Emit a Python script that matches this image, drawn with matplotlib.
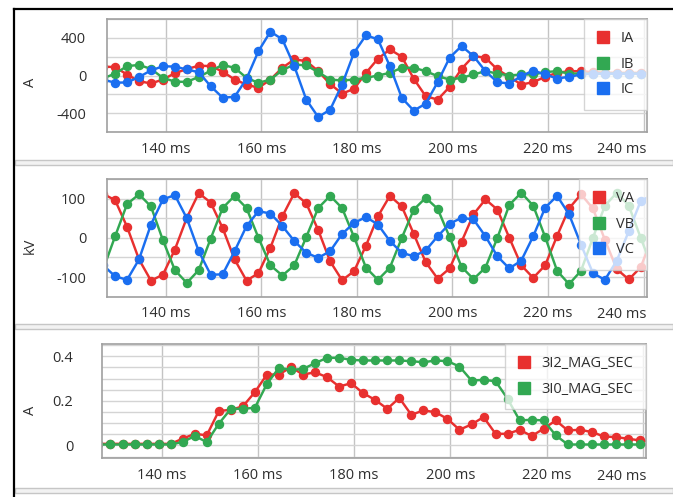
import matplotlib
matplotlib.use("Agg")
import matplotlib.pyplot as plt
from matplotlib.lines import Line2D
from matplotlib.patches import Rectangle
import matplotlib.ticker as mticker

plt.rcParams['font.family'] = ['Open Sans', 'DejaVu Sans']
plt.rcParams['axes.unicode_minus'] = False

# ---------------- data (sample times in ms) ----------------
time_ms = [126.9, 129.4, 131.9, 134.4, 136.9, 139.4, 141.9, 144.4, 146.9, 149.4,
           151.9, 154.4, 156.9, 159.4, 161.9, 164.4, 166.9, 169.4, 171.9, 174.4,
           176.9, 179.4, 181.9, 184.4, 186.9, 189.4, 191.9, 194.4, 196.9, 199.4,
           201.9, 204.4, 206.9, 209.4, 211.9, 214.4, 216.9, 219.4, 221.9, 224.4,
           226.9, 229.4, 231.9, 234.4, 236.9, 239.4, 241.9]

ia = [95, 89, 10, -61, -84, -43, 25, 68, 104, 100, 42, -43, -96, -131, -43, 82,
      171, 153, 46, -90, -192, -142, 28, 178, 277, 199, -35, -220, -256, -121,
      71, 206, 189, 64, -14, -96, -71, -14, 28, 46, 46, 35, 30, 28, 28, 28, 28]
ib = [-30, 20, 100, 112, 70, -25, -65, -68, -15, 50, 112, 82, -25, -78, -43, 57,
      117, 107, 36, -43, -53, -43, -25, 0, 28, 82, 82, 46, -7, -43, -25, 11, 46,
      21, 0, 11, 11, 36, 46, 21, 21, 20, 20, 20, 20, 20, 20]
ic = [-45, -76, -74, -16, 54, 98, 95, 64, 35, -114, -235, -227, -35, 259, 466,
      384, 99, -256, -441, -363, -96, 242, 427, 384, 99, -238, -373, -299, -71,
      189, 313, 206, 46, -71, -85, -7, 53, 11, -32, -14, 11, 20, 20, 20, 20, 20, 20]

va = [112, 96, 28, -55, -109, -94, -30, 51, 114, 90, 25, -55, -109, -90, -25, 55,
      114, 88, 20, -60, -108, -85, -20, 55, 107, 80, 10, -62, -104, -78, -10, 60,
      98, 72, 0, -70, -102, -70, 5, 75, 111, 75, -5, -80, -106, -75, 5]
vb = [-80, 4, 86, 111, 80, -6, -82, -115, -82, -2, 76, 107, 76, 0, -70, -96, -70,
      2, 76, 107, 76, 2, -76, -107, -76, 0, 72, 102, 74, 2, -74, -105, -76, 0, 84,
      115, 82, 2, -84, -118, -84, 0, 82, 115, 82, 0, -80]
vc = [-70, -98, -107, -55, 34, 98, 109, 50, -34, -94, -93, -34, 30, 68, 62, 30,
      -8, -38, -51, -34, 10, 38, 53, 34, -8, -38, -47, -32, 4, 36, 51, 47, 4, -47,
      -78, -58, 4, 77, 107, 60, -17, -90, -107, -58, 17, 94, 110]

i2_mag = [0.007, 0.007, 0.007, 0.007, 0.007, 0.007, 0.007, 0.03, 0.052, 0.045,
          0.154, 0.16, 0.175, 0.239, 0.318, 0.318, 0.351, 0.318, 0.328, 0.306,
          0.264, 0.279, 0.234, 0.204, 0.164, 0.213, 0.137, 0.157, 0.149, 0.119,
          0.07, 0.094, 0.127, 0.052, 0.052, 0.07, 0.042, 0.075, 0.112, 0.067,
          0.07, 0.06, 0.04, 0.037, 0.03, 0.022, 0.018]
i0_mag = [0.004, 0.004, 0.004, 0.004, 0.004, 0.004, 0.004, 0.015, 0.042, 0.015,
          0.097, 0.164, 0.164, 0.169, 0.276, 0.348, 0.339, 0.343, 0.369, 0.393,
          0.393, 0.384, 0.381, 0.381, 0.381, 0.381, 0.378, 0.373, 0.381, 0.378,
          0.354, 0.291, 0.294, 0.288, 0.209, 0.112, 0.115, 0.112, 0.045, 0.004,
          0.004, 0.004, 0.004, 0.004, 0.004, 0.004, 0.004]

x_ticks = [140, 160, 180, 200, 220, 240]
x_tick_labels = ['140 ms', '160 ms', '180 ms', '200 ms', '220 ms', '240 ms']

RED = '#e8302f'
GREEN = '#32a852'
BLUE = '#1a6ef0'
TXT = '#2e2e2e'

W, H = 673, 497
fig = plt.figure(figsize=(W / 100, H / 100), dpi=100)


def rect(x0, y0, x1, y1):
    return [x0 / W, 1 - y1 / H, (x1 - x0) / W, (y1 - y0) / H]


def style_axis(ax, ylim, major, minor, ylabel, label_xy, ypad, fmt):
    ax.set_xlim(127.7, 240.65)
    ax.set_ylim(*ylim)
    ax.set_xticks(x_ticks)
    ax.set_xticklabels(x_tick_labels[:-1] + [''])
    ax.yaxis.set_major_locator(mticker.MultipleLocator(major))
    ax.yaxis.set_minor_locator(mticker.MultipleLocator(minor))
    ax.yaxis.set_major_formatter(mticker.FuncFormatter(fmt))
    ax.tick_params(axis='both', which='both', length=0, labelsize=10.5,
                   labelcolor=TXT)
    ax.tick_params(axis='x', pad=7)
    ax.tick_params(axis='y', pad=ypad)
    ax.grid(True, axis='x', which='major', color='#c4c4c4', lw=1)
    ax.grid(True, axis='y', which='both', color='#d4d4d4', lw=1)
    ax.set_axisbelow(True)
    for s in ax.spines.values():
        s.set_color('#a0a0a0')
        s.set_linewidth(1.2)
    ax.set_ylabel(ylabel, fontsize=10.5, color=TXT)
    ax.yaxis.set_label_coords(*label_xy)
    ax.text(1.0, -0.155, x_tick_labels[-1], transform=ax.transAxes, ha='right',
            va='center', fontsize=10.5, color=TXT)


def plot_series(ax, y, c):
    ax.plot(time_ms, y, color=c, lw=1.75, marker='o', ms=5.8, mec=c, mfc=c,
            clip_on=True, solid_joinstyle='round')


def add_legend(ax, labels, colors):
    handles = [Line2D([], [], ls='', marker='s', ms=8.5, color=c) for c in colors]
    leg = ax.legend(handles, labels, loc='upper right', borderaxespad=0,
                    fancybox=False, framealpha=0.75, edgecolor='#c8c8c8',
                    handlelength=1.0, handletextpad=0.7, labelspacing=0.72,
                    borderpad=0.85, fontsize=10.5)
    for t in leg.get_texts():
        t.set_color(TXT)
    leg.get_frame().set_linewidth(1.0)


int_fmt = lambda v, p: f'{v:.0f}'
dec_fmt = lambda v, p: '0' if abs(v) < 1e-9 else f'{v:.1f}'

# top panel: currents
ax1 = fig.add_axes(rect(107, 19, 646.7, 132))
for y, c in ((ia, RED), (ib, GREEN), (ic, BLUE)):
    plot_series(ax1, y, c)
style_axis(ax1, (-600, 600), 400, 200, 'A', (-0.128, 0.44), 15, int_fmt)
add_legend(ax1, ['IA', 'IB', 'IC'], [RED, GREEN, BLUE])

# middle panel: voltages
ax2 = fig.add_axes(rect(107, 179, 646.7, 296.7))
for y, c in ((va, RED), (vb, GREEN), (vc, BLUE)):
    plot_series(ax2, y, c)
style_axis(ax2, (-150, 150), 100, 50, 'kV', (-0.128, 0.43), 15, int_fmt)
add_legend(ax2, ['VA', 'VB', 'VC'], [RED, GREEN, BLUE])

# bottom panel: sequence magnitudes
ax3 = fig.add_axes(rect(102.3, 344, 646, 458.3))
for y, c in ((i2_mag, RED), (i0_mag, GREEN)):
    plot_series(ax3, y, c)
style_axis(ax3, (-0.058, 0.455), 0.2, 0.05, 'A', (-0.118, 0.42), 21, dec_fmt)
add_legend(ax3, ['3I2_MAG_SEC', '3I0_MAG_SEC'], [RED, GREEN])

# window chrome: splitter bars and outer frame
for y0 in (159.5, 323.5, 487.5):
    fig.add_artist(Rectangle((15 / W, 1 - (y0 + 5) / H), (W - 15) / W, 5 / H,
                             transform=fig.transFigure, facecolor='#f2f2f2',
                             edgecolor='#c6c6c6', lw=1.0))
fig.add_artist(Line2D([13.5 / W, 1], [1 - 8.5 / H, 1 - 8.5 / H],
                      transform=fig.transFigure, color='black', lw=1.6))
fig.add_artist(Line2D([13.5 / W, 13.5 / W], [0, 1 - 8.5 / H],
                      transform=fig.transFigure, color='black', lw=1.6))

fig.savefig('out.png', dpi=100)
